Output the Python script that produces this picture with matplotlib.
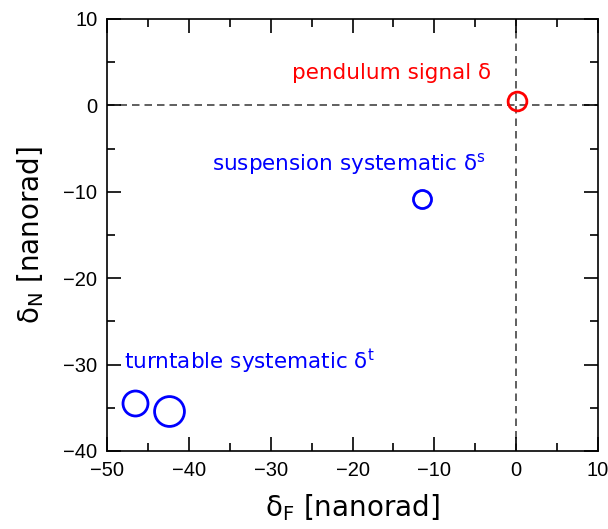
import matplotlib.pyplot as plt
from matplotlib.ticker import MultipleLocator
from matplotlib.transforms import ScaledTranslation

# data values (nanorad)
signal_x = [0.1]
signal_y = [0.5]
susp_x = [-11.5]
susp_y = [-10.8]
turn_x = [-46.6, -42.4]
turn_y = [-34.4, -35.4]

plt.rcParams['font.family'] = ['DejaVu Sans']
plt.rcParams['mathtext.fontset'] = 'dejavusans'

fig = plt.figure(figsize=(6.08, 5.29), dpi=100)
ax = fig.add_axes([107/608, 1 - 451/529, 491/608, 432/529])

# dashed zero lines
ax.axhline(0, color='#444444', lw=1.2, dashes=(4.5, 3), zorder=1)
ax.axvline(0, color='#444444', lw=1.2, dashes=(4.5, 3), zorder=1)

ax.plot(signal_x, signal_y, 'o', mfc='none', mec='red', mew=2, ms=13.5)
ax.plot(susp_x, susp_y, 'o', mfc='none', mec='blue', mew=2, ms=13)
ax.plot(turn_x[0], turn_y[0], 'o', mfc='none', mec='blue', mew=2, ms=18)
ax.plot(turn_x[1], turn_y[1], 'o', mfc='none', mec='blue', mew=2, ms=21.5)

ax.text(-3, 3.7, 'pendulum signal δ', color='red', fontsize=15.5,
        ha='right', va='center')
ax.text(-37.2, -6.8, 'suspension systematic δ$^{\\rm s}$', color='blue',
        fontsize=15.5, ha='left', va='center')
ax.text(-47.9, -29.7, 'turntable systematic δ$^{\\rm t}$', color='blue',
        fontsize=15.5, ha='left', va='center')

ax.set_xlim(-50, 10)
ax.set_ylim(-40, 10)
ax.xaxis.set_major_locator(MultipleLocator(10))
ax.xaxis.set_minor_locator(MultipleLocator(5))
ax.yaxis.set_major_locator(MultipleLocator(10))
ax.yaxis.set_minor_locator(MultipleLocator(5))
ax.tick_params(which='both', direction='in', top=True, right=True,
               labelsize=14.5, width=1.2)
ax.tick_params(which='major', length=10, pad=7)
ax.tick_params(which='minor', length=6)
for lab in ax.get_xticklabels() + ax.get_yticklabels():
    lab.set_family('Liberation Sans')
# nudge the last x label so it stays inside the figure
last = ax.get_xticklabels()[-1]
last.set_transform(last.get_transform() + ScaledTranslation(-3/100, 0, fig.dpi_scale_trans))
for s in ax.spines.values():
    s.set_linewidth(1.2)

ax.set_xlabel('δ$_{\\rm F}$ [nanorad]', fontsize=20, labelpad=9)
ax.set_ylabel('δ$_{\\rm N}$ [nanorad]', fontsize=20, labelpad=12)

fig.savefig('out.png', dpi=100)
